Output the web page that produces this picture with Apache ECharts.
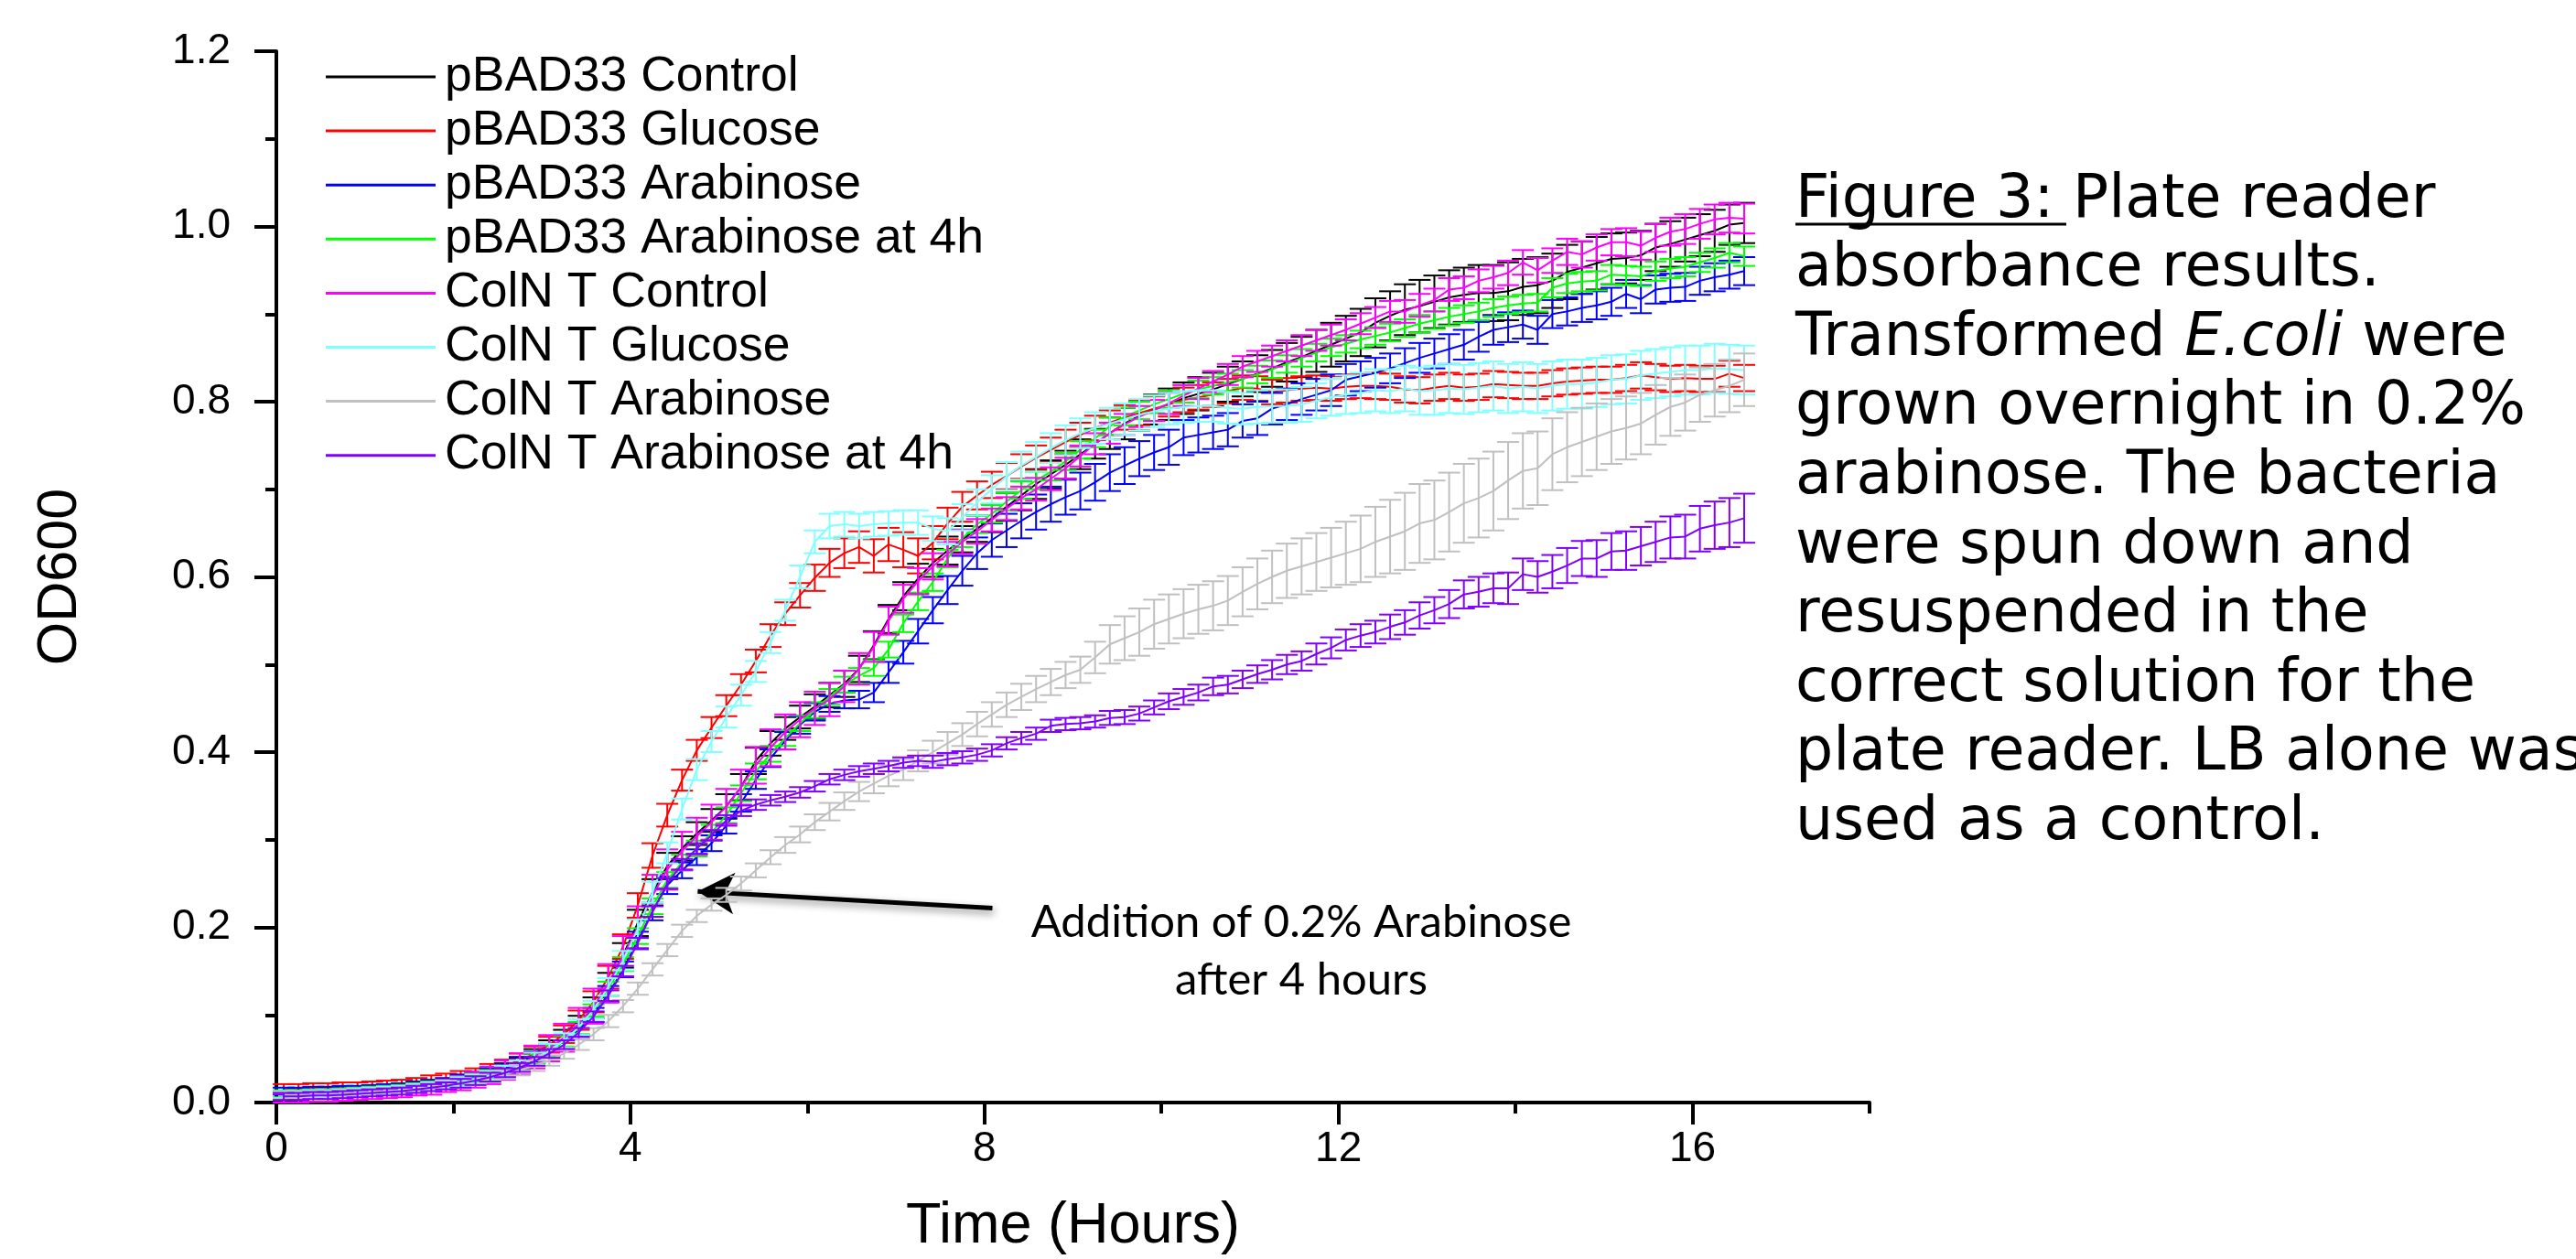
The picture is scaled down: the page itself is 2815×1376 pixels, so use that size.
<!DOCTYPE html>
<html><head><meta charset="utf-8">
<script src="https://cdn.jsdelivr.net/npm/echarts@6/dist/echarts.min.js"></script>
<style>html,body{margin:0;padding:0;background:#fff}#c{width:2815px;height:1376px}</style>
</head><body><div id="c"></div><script>
// sampling times (minutes)
const minutes = [5,15,25,35,45,55,65,75,85,95,105,115,125,135,145,155,165,175,185,195,205,215,225,235,245,255,265,275,285,295,305,315,325,335,345,355,365,375,385,395,405,415,425,435,445,455,465,475,485,495,505,515,525,535,545,555,565,575,585,595,605,615,625,635,645,655,665,675,685,695,705,715,725,735,745,755,765,775,785,795,805,815,825,835,845,855,865,875,885,895,905,915,925,935,945,955,965,975,985,995];

const seriesNames = ['pBAD33 Control','pBAD33 Glucose','pBAD33 Arabinose','pBAD33 Arabinose at 4h','ColN T Control','ColN T Glucose','ColN T Arabinose','ColN T Arabinose at 4h'];
const seriesColors = ['#000000','#ff0000','#0000ff','#00ff00','#ff00ff','#80ffff','#c0c0c0','#8000ff'];
const xTickLabels = [0,4,8,12,16];
const xMinorTicks = [2,6,10,14,18];
const arrowTail = [8.09, 0.222];
const arrowHead = [4.76, 0.241];

const pbadControl = [0.008,0.009,0.009,0.010,0.011,0.012,0.013,0.014,0.016,0.018,0.020,0.022,0.025,0.029,0.033,0.038,0.045,0.053,
0.062,0.073,0.088,0.108,0.135,0.168,0.205,0.24,0.27,
0.29,0.307,0.322,0.338,0.36,0.39,0.41,0.427,0.44,0.452,0.465,0.478,0.495,0.522,
0.552,0.578,0.598,0.616,0.63,0.643,0.655,0.667,0.68,0.693,0.706,0.717,0.728,0.74,0.752,0.764,0.775,0.784,0.791,0.797,
0.804,0.809,0.814,0.82,0.826,0.832,0.838,0.845,0.851,0.858,0.865,0.872,0.879,0.89,0.898,0.905,0.909,0.914,0.919,0.922,
0.924,0.924,0.926,0.931,0.933,0.938,0.948,0.953,0.958,0.963,0.964,0.967,0.976,0.98,0.985,0.99,0.995,1.002,1.004];
const pbadGlucose = [0.016,0.016,0.017,0.017,0.018,0.018,0.019,0.02,0.021,0.023,0.025,0.027,0.03,0.033,0.037,0.042,0.048,0.056,
0.066,0.078,0.094,0.115,0.143,0.178,0.225,0.282,0.328,
0.368,0.402,0.428,0.453,0.477,0.504,0.533,0.558,0.579,0.599,0.616,0.627,0.634,0.624,
0.637,0.631,0.624,0.639,0.661,0.68,0.693,0.705,0.715,0.726,0.736,0.745,0.754,0.762,0.77,0.776,0.782,0.787,0.792,0.797,
0.802,0.805,0.808,0.812,0.816,0.815,0.811,0.813,0.815,0.816,0.815,0.817,0.818,0.818,0.817,0.814,0.813,0.816,0.818,0.816,
0.817,0.82,0.819,0.818,0.818,0.821,0.823,0.824,0.825,0.825,0.827,0.83,0.828,0.826,0.827,0.826,0.826,0.832,0.827];
const pbadArabinose = [0.013,0.013,0.014,0.014,0.015,0.015,0.016,0.017,0.018,0.02,0.022,0.024,0.027,0.03,0.034,0.039,0.045,0.052,
0.06,0.07,0.083,0.1,0.124,0.152,0.185,0.218,0.248,
0.265,0.28,0.296,0.316,0.342,0.368,0.393,0.413,0.431,0.446,0.455,0.459,0.46,0.468,
0.491,0.514,0.538,0.562,0.585,0.607,0.627,0.642,0.653,0.664,0.674,0.683,0.691,0.698,0.708,0.719,0.727,0.735,0.742,0.748,
0.759,0.762,0.765,0.768,0.778,0.781,0.792,0.797,0.803,0.808,0.813,0.825,0.829,0.833,0.838,0.844,0.85,0.855,0.86,0.865,
0.874,0.882,0.885,0.888,0.882,0.9,0.903,0.907,0.91,0.914,0.923,0.917,0.928,0.93,0.931,0.938,0.942,0.945,0.949];
const pbadArabinose4h = [0.01,0.01,0.011,0.011,0.012,0.013,0.014,0.015,0.016,0.018,0.02,0.022,0.025,0.028,0.032,0.037,0.043,0.05,
0.059,0.07,0.085,0.105,0.13,0.158,0.19,0.224,0.254,
0.274,0.29,0.308,0.328,0.353,0.378,0.398,0.416,0.433,0.448,0.463,0.477,0.487,0.496,
0.517,0.547,0.572,0.594,0.621,0.644,0.66,0.672,0.686,0.699,0.71,0.72,0.732,0.745,0.758,0.772,0.783,0.79,0.797,0.803,
0.809,0.814,0.818,0.822,0.826,0.831,0.837,0.843,0.85,0.856,0.862,0.866,0.871,0.875,0.879,0.884,0.889,0.893,0.897,0.9,
0.903,0.907,0.91,0.912,0.913,0.93,0.935,0.937,0.938,0.945,0.944,0.943,0.949,0.952,0.954,0.959,0.964,0.97,0.966];
const colnControl = [0.005,0.005,0.006,0.006,0.007,0.008,0.009,0.01,0.012,0.014,0.016,0.019,0.022,0.026,0.031,0.037,0.044,0.052,
0.062,0.074,0.09,0.11,0.136,0.167,0.2,0.236,0.266,
0.287,0.304,0.32,0.338,0.36,0.385,0.405,0.423,0.437,0.45,0.46,0.475,0.495,0.52,
0.55,0.575,0.595,0.612,0.626,0.64,0.652,0.665,0.678,0.69,0.7,0.712,0.724,0.738,0.752,0.764,0.774,0.783,0.79,0.798,
0.807,0.815,0.823,0.831,0.84,0.846,0.852,0.858,0.864,0.87,0.876,0.882,0.889,0.896,0.903,0.903,0.91,0.916,0.928,0.93,
0.938,0.942,0.947,0.959,0.95,0.961,0.971,0.968,0.976,0.982,0.982,0.978,0.987,0.994,0.997,1.003,1.008,1.01,1.009];
const colnGlucose = [0.009,0.009,0.01,0.01,0.011,0.012,0.013,0.014,0.015,0.017,0.019,0.021,0.024,0.027,0.031,0.036,0.042,0.05,
0.059,0.071,0.086,0.106,0.132,0.162,0.198,0.24,0.285,
0.335,0.38,0.412,0.44,0.465,0.492,0.525,0.562,0.6,0.64,0.658,0.66,0.658,0.66,
0.661,0.662,0.662,0.655,0.652,0.668,0.685,0.7,0.715,0.727,0.737,0.747,0.756,0.764,0.77,0.775,0.78,0.785,0.789,0.792,
0.794,0.795,0.795,0.793,0.792,0.794,0.795,0.795,0.797,0.801,0.805,0.808,0.81,0.813,0.812,0.815,0.812,0.813,0.815,0.814,
0.816,0.818,0.815,0.817,0.815,0.818,0.82,0.82,0.822,0.825,0.826,0.83,0.832,0.834,0.836,0.836,0.838,0.837,0.836];
const colnArabinose = [0.008,0.008,0.009,0.009,0.01,0.011,0.012,0.013,0.014,0.016,0.018,0.02,0.022,0.025,0.028,0.032,0.037,0.042,
0.048,0.056,0.066,0.078,0.093,0.11,0.13,0.152,0.174,
0.196,0.213,0.226,0.237,0.25,0.265,0.28,0.294,0.306,0.32,0.332,0.344,0.355,0.364,
0.373,0.38,0.39,0.4,0.41,0.42,0.432,0.443,0.454,0.463,0.472,0.48,0.488,0.494,0.508,0.523,0.53,0.537,0.546,0.552,
0.558,0.563,0.567,0.573,0.583,0.592,0.6,0.607,0.612,0.617,0.622,0.627,0.632,0.64,0.646,0.652,0.661,0.665,0.674,0.684,
0.69,0.698,0.71,0.721,0.724,0.74,0.748,0.754,0.76,0.766,0.77,0.775,0.785,0.794,0.799,0.808,0.813,0.818,0.825];
const colnArabinose4h = [0.007,0.007,0.008,0.008,0.009,0.01,0.011,0.012,0.013,0.015,0.017,0.019,0.022,0.025,0.029,0.034,0.04,0.047,
0.056,0.066,0.08,0.098,0.122,0.15,0.182,0.218,0.25,
0.272,0.29,0.305,0.322,0.333,0.34,0.345,0.349,0.354,0.361,0.369,0.374,0.378,0.381,
0.384,0.388,0.39,0.389,0.392,0.394,0.397,0.402,0.41,0.416,0.421,0.43,0.432,0.433,0.435,0.439,0.44,0.444,0.451,0.458,
0.463,0.468,0.475,0.477,0.483,0.489,0.494,0.5,0.504,0.512,0.519,0.528,0.533,0.537,0.543,0.548,0.556,0.562,0.569,0.58,
0.583,0.587,0.587,0.603,0.6,0.606,0.613,0.621,0.621,0.629,0.63,0.635,0.64,0.645,0.646,0.655,0.659,0.662,0.667];

// error bar half-heights
const pbadControlErr = [0.004,0.004,0.004,0.004,0.004,0.004,0.004,0.004,0.004,0.004,0.004,0.004,0.005,0.005,0.006,0.006,0.007,0.008,
0.009,0.010,0.011,0.012,0.013,0.014,0.015,0.015,0.015,
0.014,0.013,0.013,0.014,0.015,0.015,0.014,0.013,0.013,0.014,0.014,0.015,0.015,0.016,
0.016,0.016,0.017,0.016,0.016,0.015,0.015,0.016,0.016,0.017,0.017,0.016,0.016,0.017,0.017,0.018,0.018,0.017,0.017,0.018,
0.018,0.019,0.019,0.020,0.020,0.021,0.021,0.022,0.023,0.024,0.025,0.026,0.027,0.028,0.028,0.029,0.030,0.030,0.031,0.031,
0.032,0.032,0.033,0.032,0.032,0.031,0.031,0.030,0.030,0.029,0.029,0.028,0.027,0.026,0.025,0.024,0.024,0.023,0.023];
const pbadGlucoseErr = [0.005,0.005,0.005,0.005,0.005,0.005,0.005,0.005,0.005,0.005,0.006,0.006,0.006,0.006,0.007,0.007,0.008,0.008,
0.009,0.010,0.011,0.012,0.013,0.014,0.014,0.014,0.013,
0.012,0.012,0.012,0.012,0.012,0.013,0.013,0.013,0.014,0.015,0.016,0.017,0.018,0.019,
0.019,0.020,0.020,0.019,0.018,0.017,0.016,0.015,0.015,0.014,0.014,0.014,0.014,0.014,0.014,0.014,0.014,0.014,0.014,0.014,
0.014,0.014,0.014,0.014,0.014,0.014,0.014,0.014,0.014,0.014,0.014,0.014,0.014,0.015,0.015,0.015,0.015,0.015,0.015,0.015,
0.015,0.015,0.015,0.015,0.015,0.015,0.015,0.015,0.015,0.015,0.015,0.015,0.015,0.015,0.015,0.015,0.015,0.015,0.015];
const pbadArabinoseErr = [0.004,0.004,0.004,0.004,0.004,0.004,0.004,0.004,0.004,0.004,0.004,0.004,0.005,0.005,0.005,0.006,0.006,0.006,
0.007,0.007,0.008,0.008,0.009,0.009,0.010,0.010,0.010,
0.009,0.009,0.009,0.009,0.010,0.010,0.010,0.010,0.010,0.010,0.009,0.009,0.010,0.011,
0.012,0.013,0.014,0.015,0.016,0.017,0.018,0.019,0.019,0.020,0.020,0.020,0.020,0.021,0.021,0.021,0.021,0.020,0.020,0.020,
0.020,0.020,0.019,0.019,0.019,0.019,0.018,0.018,0.018,0.018,0.018,0.018,0.017,0.017,0.017,0.017,0.017,0.017,0.017,0.017,
0.017,0.017,0.017,0.016,0.016,0.016,0.016,0.016,0.016,0.016,0.016,0.016,0.016,0.016,0.016,0.016,0.016,0.016,0.016];
const pbadArabinose4hErr = [0.004,0.004,0.004,0.004,0.004,0.004,0.004,0.004,0.004,0.004,0.004,0.004,0.005,0.005,0.005,0.005,0.005,0.005,
0.006,0.006,0.007,0.007,0.008,0.008,0.009,0.009,0.009,
0.009,0.009,0.009,0.009,0.009,0.009,0.009,0.009,0.009,0.009,0.009,0.009,0.009,0.009,
0.009,0.010,0.010,0.010,0.010,0.010,0.010,0.010,0.010,0.010,0.010,0.010,0.010,0.010,0.010,0.010,0.010,0.010,0.010,0.010,
0.010,0.010,0.010,0.010,0.010,0.010,0.010,0.010,0.010,0.010,0.010,0.010,0.010,0.010,0.010,0.010,0.010,0.010,0.010,0.010,
0.010,0.010,0.010,0.010,0.010,0.011,0.011,0.011,0.011,0.011,0.011,0.011,0.011,0.011,0.011,0.011,0.011,0.011,0.011];
const colnControlErr = [0.005,0.005,0.005,0.005,0.005,0.005,0.005,0.005,0.006,0.006,0.007,0.007,0.008,0.009,0.010,0.011,0.012,0.013,
0.015,0.016,0.018,0.020,0.022,0.023,0.024,0.024,0.023,
0.022,0.021,0.020,0.020,0.020,0.021,0.021,0.020,0.020,0.019,0.019,0.018,0.018,0.017,
0.016,0.016,0.015,0.015,0.014,0.014,0.014,0.013,0.013,0.013,0.013,0.013,0.012,0.012,0.012,0.012,0.012,0.012,0.012,0.012,
0.012,0.012,0.012,0.012,0.012,0.012,0.012,0.012,0.012,0.012,0.012,0.012,0.012,0.012,0.012,0.013,0.013,0.013,0.013,0.013,
0.013,0.013,0.014,0.014,0.014,0.014,0.015,0.015,0.015,0.015,0.016,0.016,0.016,0.016,0.017,0.017,0.017,0.017,0.017];
const colnGlucoseErr = [0.004,0.004,0.004,0.004,0.004,0.004,0.004,0.004,0.004,0.004,0.004,0.004,0.005,0.005,0.005,0.006,0.006,0.007,
0.008,0.008,0.009,0.010,0.010,0.011,0.011,0.012,0.012,
0.012,0.012,0.012,0.012,0.012,0.012,0.012,0.012,0.013,0.013,0.014,0.014,0.014,0.014,
0.014,0.014,0.014,0.014,0.015,0.015,0.015,0.016,0.016,0.016,0.017,0.017,0.017,0.017,0.018,0.018,0.018,0.018,0.018,0.018,
0.018,0.018,0.018,0.018,0.018,0.019,0.019,0.019,0.020,0.020,0.021,0.022,0.023,0.024,0.025,0.026,0.027,0.028,0.028,0.028,
0.028,0.028,0.028,0.028,0.028,0.028,0.028,0.028,0.028,0.028,0.028,0.028,0.028,0.028,0.028,0.028,0.028,0.028,0.028];
const colnArabinoseErr = [0.004,0.004,0.004,0.004,0.004,0.004,0.004,0.004,0.004,0.004,0.004,0.004,0.005,0.005,0.005,0.005,0.006,0.006,
0.006,0.006,0.006,0.007,0.007,0.007,0.007,0.007,0.007,
0.007,0.007,0.007,0.008,0.008,0.008,0.008,0.009,0.009,0.009,0.010,0.010,0.011,0.011,
0.012,0.012,0.012,0.013,0.013,0.013,0.014,0.014,0.014,0.015,0.015,0.015,0.015,0.015,0.018,0.022,0.025,0.027,0.028,0.028,
0.028,0.028,0.028,0.028,0.028,0.029,0.030,0.031,0.032,0.033,0.034,0.036,0.038,0.040,0.042,0.044,0.045,0.045,0.045,0.045,
0.045,0.045,0.044,0.043,0.042,0.041,0.040,0.039,0.038,0.037,0.036,0.035,0.034,0.033,0.032,0.031,0.030,0.030,0.030];
const colnArabinose4hErr = [0.004,0.004,0.004,0.004,0.004,0.004,0.004,0.004,0.004,0.004,0.004,0.004,0.005,0.005,0.005,0.005,0.005,0.005,
0.005,0.005,0.005,0.006,0.006,0.006,0.006,0.006,0.006,
0.006,0.006,0.006,0.006,0.006,0.006,0.006,0.006,0.006,0.006,0.006,0.006,0.006,0.006,
0.006,0.006,0.006,0.007,0.007,0.007,0.007,0.007,0.007,0.007,0.007,0.007,0.007,0.007,0.007,0.008,0.008,0.008,0.008,0.009,
0.009,0.009,0.010,0.010,0.010,0.010,0.011,0.011,0.011,0.012,0.012,0.012,0.013,0.013,0.014,0.014,0.015,0.015,0.016,0.016,
0.017,0.017,0.018,0.018,0.018,0.019,0.020,0.020,0.021,0.021,0.022,0.022,0.023,0.024,0.025,0.026,0.027,0.028,0.028];

const values = [pbadControl,pbadGlucose,pbadArabinose,pbadArabinose4h,colnControl,colnGlucose,colnArabinose,colnArabinose4h];
const errors = [pbadControlErr,pbadGlucoseErr,pbadArabinoseErr,pbadArabinose4hErr,colnControlErr,colnGlucoseErr,colnArabinoseErr,colnArabinose4hErr];
const hours = minutes.map(m => m / 60);

function errRenderer(color) {
  return function (params, api) {
    const x = api.value(0), y = api.value(1), e = api.value(2);
    const top = api.coord([x, y + e]);
    const bot = api.coord([x, y - e]);
    const hw = 12;
    const st = { stroke: color, lineWidth: 2 };
    return { type: 'group', children: [
      { type: 'line', shape: { x1: top[0], y1: top[1], x2: bot[0], y2: bot[1] }, style: st },
      { type: 'line', shape: { x1: top[0] - hw, y1: top[1], x2: top[0] + hw, y2: top[1] }, style: st },
      { type: 'line', shape: { x1: bot[0] - hw, y1: bot[1], x2: bot[0] + hw, y2: bot[1] }, style: st }
    ]};
  };
}

const series = [];
seriesNames.forEach((name, k) => {
  const color = seriesColors[k];
  series.push({
    type: 'line', name, xAxisIndex: 0, yAxisIndex: 0,
    data: hours.map((h, i) => [h, values[k][i]]),
    showSymbol: false, symbol: 'none', silent: true, z: 3 + 2 * k,
    lineStyle: { color, width: 2 }, itemStyle: { color }
  });
  series.push({
    type: 'custom', name, xAxisIndex: 0, yAxisIndex: 0, silent: true, z: 2 + 2 * k,
    renderItem: errRenderer(color), itemStyle: { color },
    encode: { x: 0, y: 1 },
    data: hours.map((h, i) => [h, values[k][i], errors[k][i]])
  });
});
series.push({
  type: 'line', name: 'annotation', data: [], silent: true, z: 40,
  markLine: {
    silent: true, animation: false, symbol: ['none', 'arrow'], symbolSize: [34, 40],
    label: { show: false },
    lineStyle: { color: '#000', width: 5, type: 'solid', shadowColor: 'rgba(0,0,0,0.45)', shadowBlur: 8, shadowOffsetX: 2, shadowOffsetY: 4 },
    data: [[{ coord: arrowTail }, { coord: arrowHead }]]
  }
});

const axisFont = 'Liberation Sans, Arial, sans-serif';
const chart = echarts.init(document.getElementById('c'), null, { renderer: 'canvas' });
chart.setOption({
  animation: false,
  backgroundColor: '#ffffff',
  grid: { left: 302, right: 772, top: 56, bottom: 171, containLabel: false, outerBoundsMode: 'none' },
  legend: {
    show: true, orient: 'vertical', left: 351, top: 52,
    itemWidth: 120, itemHeight: 3, itemGap: 5.1, icon: 'rect', selectedMode: false,
    data: seriesNames,
    textStyle: { fontFamily: axisFont, fontSize: 53.5, color: '#000', lineHeight: 53, padding: [0, 0, 0, 5] }
  },
  xAxis: [{
    type: 'value', min: 0, max: 18, interval: 4, position: 'bottom',
    axisLine: { show: true, onZero: false, lineStyle: { color: '#000', width: 4 } },
    axisTick: { show: true, length: 24, lineStyle: { color: '#000', width: 4 }, customValues: xTickLabels },
    minorTick: { show: false },
    axisLabel: { show: true, customValues: xTickLabels, fontFamily: axisFont, fontSize: 46, color: '#000', margin: 28 },
    splitLine: { show: false },
    name: 'Time (Hours)', nameLocation: 'middle', nameGap: 104,
    nameTextStyle: { fontFamily: axisFont, fontSize: 63, color: '#000' }
  }, {
    type: 'value', min: 0, max: 18, interval: 2, position: 'bottom',
    axisLine: { show: false }, axisLabel: { show: false }, splitLine: { show: false },
    axisTick: { show: true, length: 12, lineStyle: { color: '#000', width: 4 }, customValues: xMinorTicks }
  }],
  yAxis: {
    type: 'value', min: 0, max: 1.2, interval: 0.2,
    axisLine: { show: true, onZero: false, lineStyle: { color: '#000', width: 4 } },
    axisTick: { show: true, length: 24, lineStyle: { color: '#000', width: 4 } },
    minorTick: { show: true, splitNumber: 2, length: 12, lineStyle: { color: '#000', width: 4 } },
    axisLabel: { formatter: v => v.toFixed(1), fontFamily: axisFont, fontSize: 46, color: '#000', margin: 50 },
    splitLine: { show: false }, minorSplitLine: { show: false },
    name: 'OD600', nameLocation: 'middle', nameGap: 205,
    nameTextStyle: { fontFamily: axisFont, fontSize: 61, color: '#000' }
  },
  graphic: [
    { type: 'text', x: 1422, y: 977, silent: true, style: {
      text: 'Addition of 0.2% Arabinose\nafter 4 hours', align: 'center', verticalAlign: 'top',
      fontFamily: 'Lato, sans-serif', fontSize: 49, lineHeight: 63, fill: '#000' } },
    { type: 'text', x: 1962, y: 182, silent: true, style: {
      text: 'Figure 3: Plate reader\nabsorbance results.\nTransformed {i|E.coli} were\ngrown overnight in 0.2%\narabinose. The bacteria\nwere spun down and\nresuspended in the\ncorrect solution for the\nplate reader. LB alone was\nused as a control.',
      fontFamily: 'DejaVu Sans', fontSize: 65, lineHeight: 75.6, fill: '#000',
      rich: { i: { fontStyle: 'italic', fontFamily: 'DejaVu Sans', fontSize: 65, lineHeight: 75.6, fill: '#000' } } } },
    { type: 'line', silent: true, shape: { x1: 1962, y1: 245, x2: 2258, y2: 245 }, style: { stroke: '#000', lineWidth: 3 } }
  ],
  series
});
</script></body></html>
